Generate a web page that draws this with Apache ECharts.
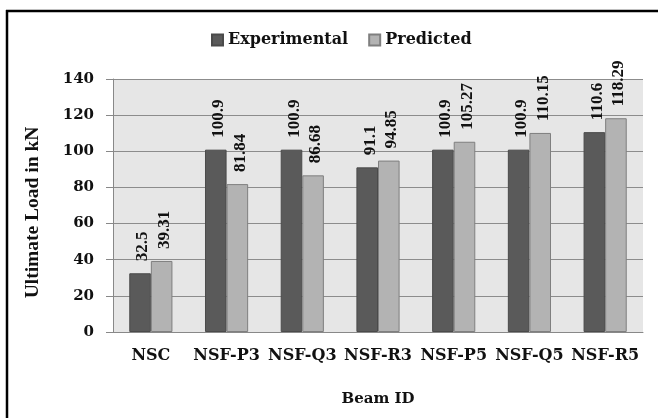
<!DOCTYPE html>
<html><head><meta charset="utf-8">
<script src="https://cdn.jsdelivr.net/npm/echarts@6/dist/echarts.min.js"></script>
<style>html,body{margin:0;padding:0;background:#fff}#c{width:658px;height:418px}</style>
</head><body><div id="c"></div>
<script>
const categories = ['NSC','NSF-P3','NSF-Q3','NSF-R3','NSF-P5','NSF-Q5','NSF-R5'];
const experimental = [32.5,100.9,100.9,91.1,100.9,100.9,110.6];
const predicted = [39.31,81.84,86.68,94.85,105.27,110.15,118.29];
const yTicks = [0,20,40,60,80,100,120,140];
const SERIF = '"Liberation Serif","Times New Roman",serif';
const WIDE = '"DejaVu Serif",serif';
const chart = echarts.init(document.getElementById('c'));
const lbl = {show:true, position:'top', rotate:90, align:'left', verticalAlign:'middle', distance:12,
  offset:[0,3], fontFamily:SERIF, fontWeight:'bold', fontSize:17, color:'#111'};
chart.setOption({
  animation:false,
  backgroundColor:'#fff',
  graphic:[
    {type:'line', shape:{x1:6, y1:11, x2:658, y2:11}, style:{stroke:'#000', lineWidth:2.5}},
    {type:'line', shape:{x1:7, y1:10, x2:7, y2:418}, style:{stroke:'#000', lineWidth:2.5}}
  ],
  legend:{left:211, top:32, padding:0, itemWidth:11, itemHeight:11, itemGap:20, icon:'rect',
    textStyle:{fontFamily:WIDE, fontWeight:'bold', fontSize:16, color:'#111'},
    data:['Experimental','Predicted']},
  grid:{left:113, right:15, top:79, bottom:86, show:true, backgroundColor:'#e6e6e6', borderWidth:0},
  xAxis:{type:'category', data:categories, name:'Beam ID', nameLocation:'middle', nameGap:60,
    nameTextStyle:{fontFamily:WIDE, fontWeight:'bold', fontSize:15, color:'#111'},
    axisLine:{lineStyle:{color:'#888'}}, axisTick:{show:false},
    axisLabel:{fontFamily:WIDE, fontWeight:'bold', fontSize:16, color:'#111', margin:16, interval:0}},
  yAxis:{type:'value', min:yTicks[0], max:yTicks[yTicks.length-1], interval:20,
    name:'Ultimate Load in kN', nameLocation:'middle', nameGap:70,
    nameTextStyle:{fontFamily:SERIF, fontWeight:'bold', fontSize:19.5, color:'#111', padding:[0,14,0,0]},
    axisLine:{show:true, lineStyle:{color:'#888'}}, axisTick:{show:true, length:7, lineStyle:{color:'#888'}},
    splitLine:{lineStyle:{color:'#8c8c8c'}},
    axisLabel:{fontFamily:WIDE, fontWeight:'bold', fontSize:15, color:'#111', margin:19}},
  series:[
    {name:'Experimental', type:'bar', data:experimental, barGap:'0%', barCategoryGap:'43%',
      itemStyle:{color:'#5a5a5a', borderColor:'#4a4a4a', borderWidth:1}, label:lbl},
    {name:'Predicted', type:'bar', data:predicted,
      itemStyle:{color:'#b3b3b3', borderColor:'#7f7f7f', borderWidth:1}, label:lbl}
  ]
});
</script></body></html>
